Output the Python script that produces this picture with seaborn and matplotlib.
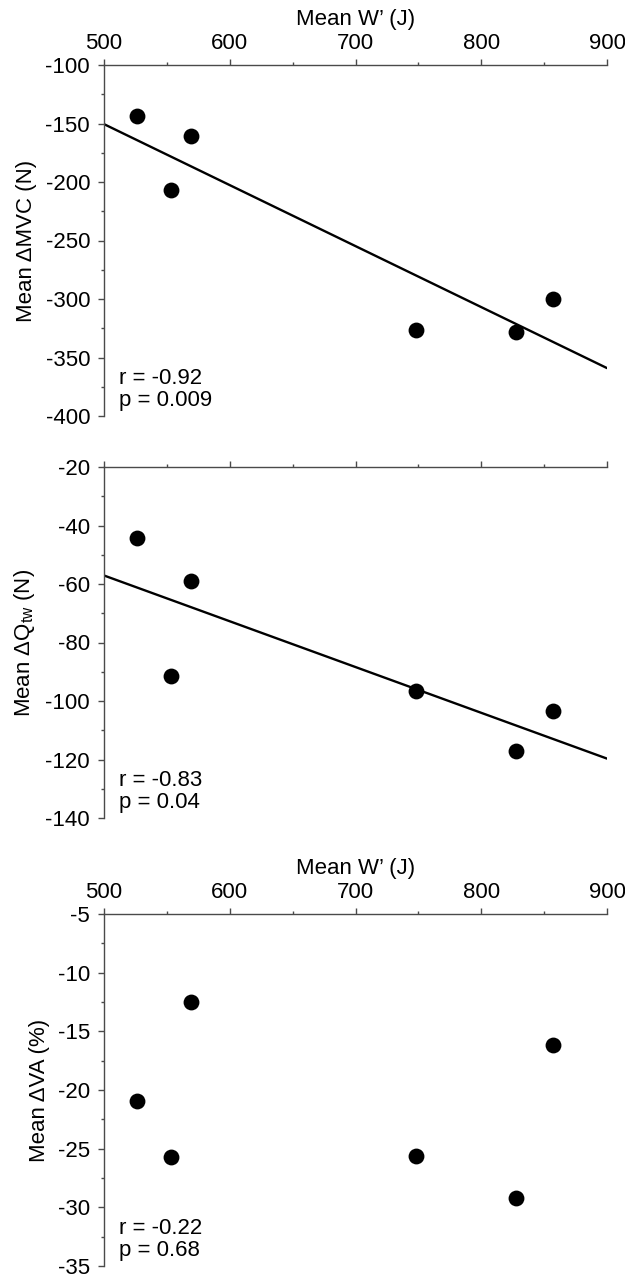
import matplotlib as mpl
mpl.use('agg')
import matplotlib.pyplot as plt
from matplotlib.ticker import MultipleLocator
import numpy as np
import pandas as pd
import seaborn as sns

# Data
w_prime = [526, 553, 569.5, 748, 828, 857]          # Mean W' (J)
d_mvc = [-144, -207, -161, -326.5, -328.5, -300]    # Mean dMVC (N)
d_qtw = [-44.2, -91.3, -58.9, -96.7, -117.2, -103.5]  # Mean dQtw (N)
d_va = [-20.9, -25.7, -12.5, -25.6, -29.2, -16.2]   # Mean dVA (%)

stats_txt = ["r = -0.92\np = 0.009", "r = -0.83\np = 0.04", "r = -0.22\np = 0.68"]
ylabels = ["Mean ΔMVC (N)", "Mean ΔQ$_{\\mathregular{tw}}$ (N)", "Mean ΔVA (%)"]
ylims = [(-400, -100), (-140, -20), (-35, -5)]
ysteps = [50, 20, 5]

df = pd.DataFrame({"w": w_prime, "mvc": d_mvc, "qtw": d_qtw, "va": d_va})

sns.set_style("ticks")
plt.rcParams['font.family'] = ['Liberation Sans', 'DejaVu Sans']
plt.rcParams['mathtext.fontset'] = 'custom'
plt.rcParams['mathtext.rm'] = 'Liberation Sans'
plt.rcParams['axes.unicode_minus'] = False
plt.rcParams['text.color'] = 'black'
plt.rcParams['axes.labelcolor'] = 'black'

fs = 16
fig = plt.figure(figsize=(6.25, 12.78), dpi=100)
W, H = 625, 1278
boxes = [(65, 416), (467, 818), (914, 1266)]  # pixel top/bottom of each axes
axes = []
for top, bot in boxes:
    axes.append(fig.add_axes([104 / W, 1 - bot / H, 503 / W, (bot - top) / H]))

cols = ["mvc", "qtw", "va"]
spine_col = "#4a4a4a"
for i, ax in enumerate(axes):
    ax.set_xlim(500, 900)
    ax.set_ylim(*ylims[i])
    if i < 2:
        sns.regplot(data=df, x="w", y=cols[i], ax=ax, ci=None, truncate=False,
                    scatter_kws=dict(s=130, color="black", alpha=1, linewidths=0),
                    line_kws=dict(color="black", lw=1.7))
    else:
        sns.scatterplot(data=df, x="w", y=cols[i], ax=ax, s=130, color="black",
                        linewidth=0)
    ax.set_xlim(500, 900)
    ax.set_ylim(*ylims[i])

    sns.despine(ax=ax, top=False, right=True, bottom=True, left=False)
    for s in ["top", "left"]:
        ax.spines[s].set_color(spine_col)
        ax.spines[s].set_linewidth(1.0)

    ax.xaxis.tick_top()
    ax.xaxis.set_major_locator(MultipleLocator(100))
    ax.xaxis.set_minor_locator(MultipleLocator(50))
    ax.yaxis.set_major_locator(MultipleLocator(ysteps[i]))
    ax.yaxis.set_minor_locator(MultipleLocator(ysteps[i] / 2))
    ax.tick_params(which="major", length=4, width=1.0, color=spine_col,
                   labelsize=fs, labelcolor="black", direction="out")
    ax.tick_params(which="minor", length=2.5, width=1.0, color=spine_col,
                   direction="out")
    ax.tick_params(axis="y", pad=6)
    ax.tick_params(axis="x", pad=4)

    if i == 1:
        ax.tick_params(axis="x", labeltop=False)
        ax.set_xlabel("")
    else:
        ax.xaxis.set_label_position("top")
        ax.set_xlabel("Mean W’ (J)", fontsize=fs, labelpad=6)

    ax.set_ylabel(ylabels[i], fontsize=fs, labelpad=6)
    ax.text(0.03, 0.015, stats_txt[i], transform=ax.transAxes, fontsize=fs,
            ha="left", va="bottom", linespacing=1.05, color="black")

fig.savefig("out.png", dpi=100)
